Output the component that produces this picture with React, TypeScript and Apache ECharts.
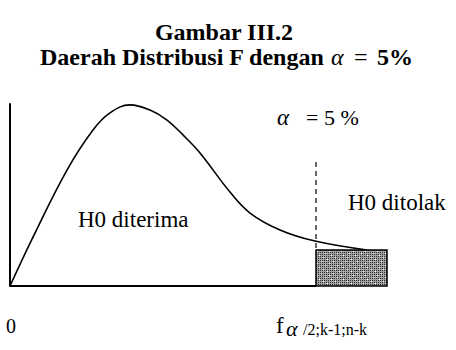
import React, { useEffect, useRef } from "react";
import * as echarts from "echarts";

// F-distribution density curve (x = F value, y = relative density)
const curveX = [0, 0.23, 0.57, 0.83, 1.0, 1.2, 1.4, 1.57, 1.73, 1.9, 2.2, 2.4, 2.7, 3.05, 3.57];
const curveY = [0, 0.269, 0.637, 0.857, 0.951, 0.995, 0.967, 0.912, 0.83, 0.731, 0.516, 0.401, 0.308, 0.247, 0.198];
// critical value and rejection region
const critX = 3.06;
const rejectEnd = 3.77;
const rejectTop = 0.198;
const dashRange = [0.209, 0.692];

const titleLine1 = "Gambar III.2";
const titleLine2 = "Daerah Distribusi F dengan";
const alphaText = "α";
const acceptLabel = "H0 diterima";
const rejectLabel = "H0 ditolak";
const zeroLabel = "0";
const critSub = "/2;k-1;n-k";

const SERIF = "Liberation Serif";

function makePattern(): string {
  const c = document.createElement("canvas");
  c.width = 12;
  c.height = 12;
  const ctx = c.getContext("2d")!;
  ctx.fillStyle = "#a4a4a4";
  ctx.fillRect(0, 0, 12, 12);
  ctx.fillStyle = "#2a2a2a";
  for (let y = 0; y < 12; y += 2) for (let x = 0; x < 12; x += 2) ctx.fillRect(x, y, 1, 1);
  ctx.fillStyle = "#fff";
  const whites = [[1, 1], [7, 3], [3, 7], [9, 9], [5, 11], [11, 5]];
  whites.forEach(([x, y]) => ctx.fillRect(x, y, 1, 1));
  return c.toDataURL();
}

function txt(x: number, y: number, text: string, size: number, weight = "normal", style = "normal") {
  return {
    type: "text",
    x,
    y,
    style: {
      text,
      fontFamily: SERIF,
      fontSize: size,
      fontWeight: weight,
      fontStyle: style,
      fill: "#000",
      align: "left",
      verticalAlign: "middle",
    },
  };
}

export default function App() {
  const ref = useRef<HTMLDivElement>(null);
  useEffect(() => {
    if (!ref.current) return;
    const chart = echarts.init(ref.current, undefined, { renderer: "svg" });
    const pattern = { image: makePattern(), repeat: "repeat" };
    const curve = curveX.map((x, i) => [x, curveY[i]]);
    const title1 = txt(224, 32, titleLine1, 24, "bold");
    (title1.style as any).align = "center";
    chart.setOption({
      animation: false,
      grid: { left: 10, top: 104, width: 400, height: 182 },
      xAxis: { type: "value", min: 0, max: 4, show: false },
      yAxis: {
        type: "value",
        min: 0,
        max: 1,
        axisLine: { show: true, onZero: false, lineStyle: { color: "#000", width: 2 } },
        axisTick: { show: false },
        axisLabel: { show: false },
        splitLine: { show: false },
      },
      series: [
        {
          type: "line",
          data: [[0, 0], [critX, 0]],
          symbol: "none",
          lineStyle: { color: "#000", width: 2 },
          z: 2,
        },
        {
          type: "line",
          data: curve,
          smooth: 0.4,
          symbol: "none",
          lineStyle: { color: "#000", width: 1.6 },
          z: 3,
        },
        {
          type: "line",
          data: [[critX, dashRange[0]], [critX, dashRange[1]]],
          symbol: "none",
          lineStyle: { color: "#000", width: 1.2, type: [5, 4] },
          z: 3,
        },
        {
          type: "custom",
          data: [[critX, rejectEnd, rejectTop]],
          encode: { x: [0, 1], y: 2 },
          z: 5,
          renderItem: (_p: any, api: any) => {
            const p0 = api.coord([api.value(0), api.value(2)]);
            const p1 = api.coord([api.value(1), 0]);
            return {
              type: "rect",
              shape: { x: p0[0], y: p0[1], width: p1[0] - p0[0], height: p1[1] - p0[1] },
              style: { fill: pattern, stroke: "#000", lineWidth: 1.5 },
            };
          },
        },
      ],
      graphic: [
        title1,
        txt(40, 57, titleLine2, 24, "bold"),
        txt(331, 57, alphaText, 24, "normal", "italic"),
        txt(354, 57, "=", 24),
        txt(377, 57, "5%", 24, "bold"),
        txt(277, 117, alphaText, 23, "normal", "italic"),
        txt(306, 117, "= 5 %", 22),
        txt(348, 202, rejectLabel, 23),
        txt(78, 219, acceptLabel, 23),
        txt(6, 326, zeroLabel, 20),
        txt(276, 325, "f", 23),
        txt(286, 328, alphaText, 22, "normal", "italic"),
        txt(303, 329, critSub, 16),
      ],
    });
    return () => chart.dispose();
  }, []);
  return <div ref={ref} style={{ width: 456, height: 350, position: "absolute", left: 0, top: 0, background: "#fff" }} />;
}
